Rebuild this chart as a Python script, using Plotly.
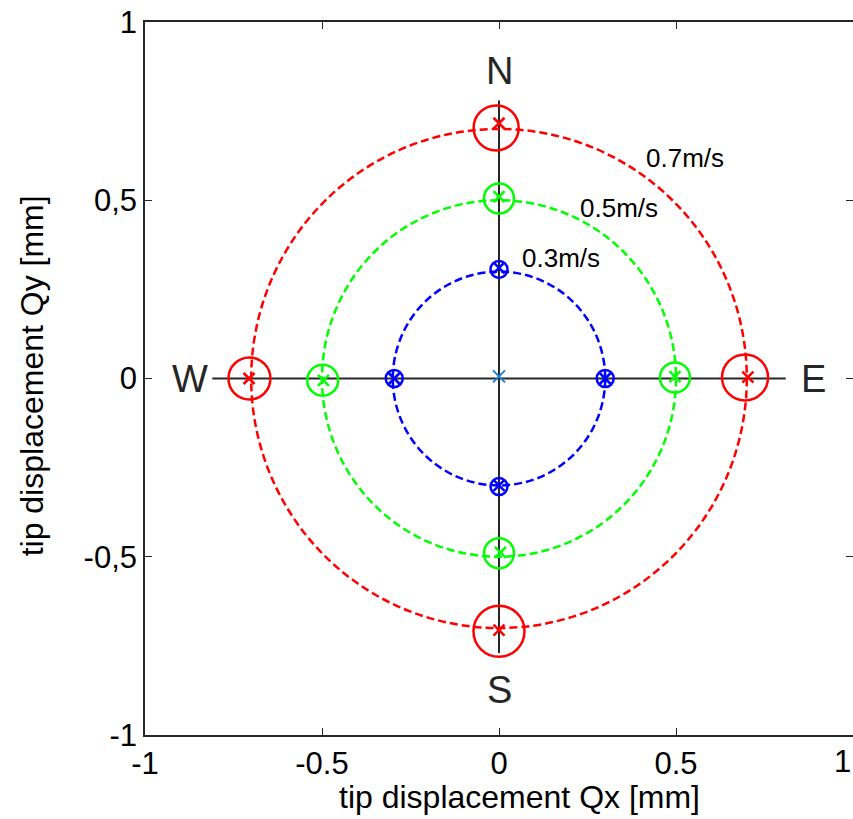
import plotly.graph_objects as go

# ---- data ----
speeds = ["0.3m/s", "0.5m/s", "0.7m/s"]
radii = [0.3, 0.5, 0.7]
colors = ["#0000FF", "#00FF00", "#FF0000"]

# circle markers (N, E, S, W) per speed
circ_x = {
    "0.3m/s": [0.0, 0.300, 0.0, -0.296],
    "0.5m/s": [0.0, 0.497, 0.0, -0.498],
    "0.7m/s": [-0.008, 0.695, 0.0, -0.705],
}
circ_y = {
    "0.3m/s": [0.306, 0.0, -0.303, 0.0],
    "0.5m/s": [0.505, 0.003, -0.490, -0.005],
    "0.7m/s": [0.703, 0.003, -0.709, 0.0],
}
circ_size = {
    "0.3m/s": [17, 17, 17, 17],
    "0.5m/s": [30, 30, 30, 31],
    "0.7m/s": [45, 46, 51, 42],
}
# cross markers (N, E, S, W) per speed
cross_x = {
    "0.3m/s": [0.0, 0.300, 0.0, -0.296],
    "0.5m/s": [0.0, 0.497, 0.004, -0.496],
    "0.7m/s": [0.0, 0.703, 0.0, -0.706],
}
cross_y = {
    "0.3m/s": [0.310, 0.0, -0.300, 0.0],
    "0.5m/s": [0.510, 0.005, -0.488, -0.005],
    "0.7m/s": [0.716, 0.004, -0.706, 0.0],
}
center_x = [0.0]
center_y = [0.006]

# crosshair lines
hline_x = [-0.81, 0.81]
hline_y = [0.0, 0.0]
vline_x = [0.0, 0.0]
vline_y = [-0.77, 0.78]

# compass labels
compass_text = ["N", "S", "W", "E"]
compass_x = [0.0, 0.0, -0.872, 0.888]
compass_y = [0.862, -0.874, 0.0, 0.0]

# speed label positions (left edge)
speed_lab_x = [0.06, 0.223, 0.409]
speed_lab_y = [0.337, 0.477, 0.619]

xticks = [-1, -0.5, 0, 0.5]
xticktext = ["-1", "-0.5", "0", "0.5"]
x_edge_tick = 1
x_edge_ticktext = "1"
yticks = [-1, -0.5, 0, 0.5, 1]
yticktext = ["-1", "-0,5", "0", "0,5", "1"]

x_title = "tip displacement Qx [mm]"
y_title = "tip displacement Qy [mm]"

FONT = "Liberation Sans, Arial, sans-serif"
DARK = "#262626"

fig = go.Figure()

# crosshair
fig.add_trace(go.Scatter(x=hline_x, y=hline_y, mode="lines",
                         line=dict(color=DARK, width=2), hoverinfo="skip", showlegend=False))
fig.add_trace(go.Scatter(x=vline_x, y=vline_y, mode="lines",
                         line=dict(color=DARK, width=2), hoverinfo="skip", showlegend=False))

# dashed circles
for r, c in zip(radii, colors):
    fig.add_shape(type="circle", xref="x", yref="y", x0=-r, x1=r, y0=-r, y1=r,
                  line=dict(color=c, width=2.5, dash="8px,4px"), layer="above")

# markers
for s, c in zip(speeds, colors):
    fig.add_trace(go.Scatter(x=circ_x[s], y=circ_y[s], mode="markers",
                             marker=dict(symbol="circle-open", size=circ_size[s], color=c,
                                         opacity=1, line=dict(width=2.5, color=c)),
                             showlegend=False, name=s))
    fig.add_trace(go.Scatter(x=cross_x[s], y=cross_y[s], mode="markers",
                             marker=dict(symbol="x-thin-open", size=11, color=c, opacity=1,
                                         line=dict(width=2.5, color=c)),
                             showlegend=False, name=s))

fig.add_trace(go.Scatter(x=center_x, y=center_y, mode="markers",
                         marker=dict(symbol="x-thin-open", size=12, color="#1f7fd0", opacity=1,
                                     line=dict(width=2, color="#1f7fd0")),
                         showlegend=False))

# compass annotations
for t, x, y in zip(compass_text, compass_x, compass_y):
    fig.add_annotation(x=x, y=y, xref="x", yref="y", text=t, showarrow=False,
                       font=dict(family=FONT, size=38, color=DARK),
                       xanchor="center", yanchor="middle")

for t, x, y in zip(speeds, speed_lab_x, speed_lab_y):
    fig.add_annotation(x=x, y=y, xref="x", yref="y", text=t, showarrow=False,
                       font=dict(family=FONT, size=26, color="black"),
                       xanchor="left", yanchor="middle")

# edge tick label at the right border
fig.add_annotation(x=x_edge_tick, y=-0.037, xref="x", yref="paper", text=x_edge_ticktext,
                   showarrow=False, xanchor="right", yanchor="middle",
                   font=dict(family=FONT, size=31, color="black"))

# axis titles
fig.add_annotation(x=0.529, y=-0.087, xref="paper", yref="paper", text=x_title,
                   showarrow=False, xanchor="center", yanchor="middle",
                   font=dict(family=FONT, size=32, color="black"))
fig.add_annotation(x=-0.160, y=0.504, xref="paper", yref="paper", text=y_title,
                   showarrow=False, xanchor="center", yanchor="middle", textangle=-90,
                   font=dict(family=FONT, size=32, color="black"))

fig.update_layout(
    width=853, height=819,
    margin=dict(l=145, r=0, t=22, b=84, autoexpand=False),
    plot_bgcolor="white", paper_bgcolor="white",
    font=dict(family=FONT, size=31, color="black"),
    showlegend=False,
)
fig.update_xaxes(range=[-1, 1], tickvals=xticks, ticktext=xticktext, automargin=False,
                 showgrid=False, zeroline=False, showline=True, linecolor=DARK, linewidth=1.6,
                 mirror="ticks", ticks="inside", ticklen=7, tickcolor=DARK,
                 tickfont=dict(family=FONT, size=31, color="black"))
fig.update_yaxes(range=[-1, 1], tickvals=yticks, ticktext=yticktext, automargin=False,
                 showgrid=False, zeroline=False, showline=True, linecolor=DARK, linewidth=1.6,
                 mirror="ticks", ticks="inside", ticklen=7, tickcolor=DARK,
                 tickfont=dict(family=FONT, size=31, color="black"))

fig.write_html("out.html", config={"displayModeBar": False},
               post_script="document.body.style.margin='0';document.body.style.overflow='hidden';")
